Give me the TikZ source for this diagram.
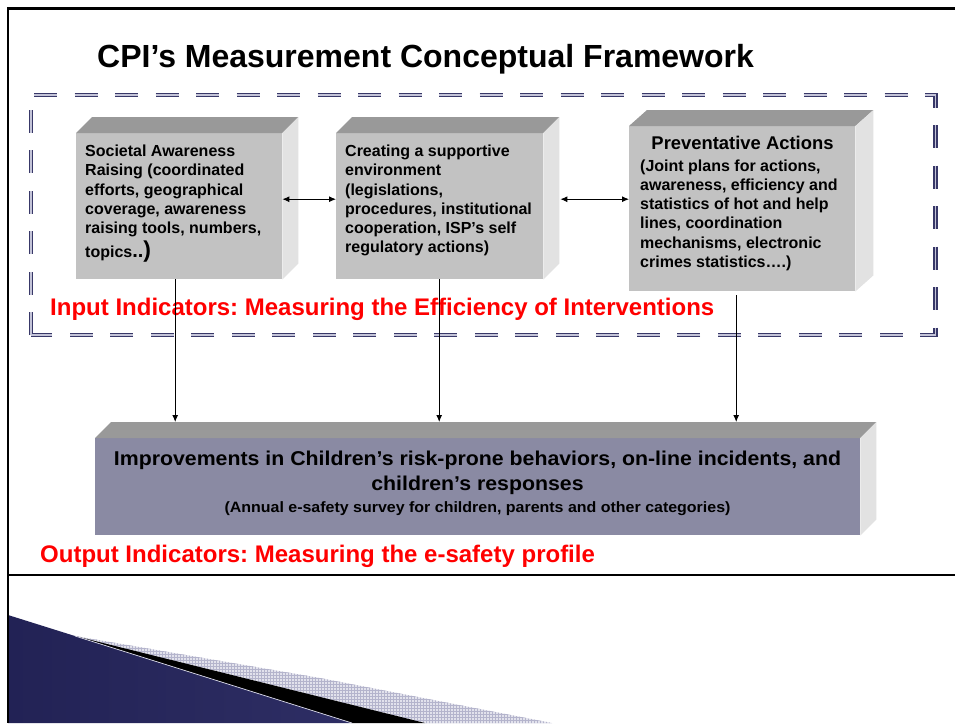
\documentclass[tikz,border=0pt]{standalone}
\usepackage{fontspec}
\setmainfont{Liberation Sans}
\newfontfamily\widefont[FakeStretch=1.065]{Liberation Sans}
\usetikzlibrary{arrows.meta,calc,patterns}
\frenchspacing
\definecolor{boxfront}{HTML}{C2C2C2}
\definecolor{boxtop}{HTML}{999999}
\definecolor{boxside}{HTML}{E2E2E2}
\definecolor{bigfront}{HTML}{8A8AA3}
\definecolor{dashnavy}{HTML}{383868}
\definecolor{dashmid}{HTML}{C4C4D8}
\definecolor{navyA}{HTML}{222255}
\definecolor{navyB}{HTML}{63639B}
\definecolor{navyC}{HTML}{2E2E64}
\definecolor{hatchbg}{HTML}{E2E2EC}
\definecolor{hatchln}{HTML}{B4B4CC}
\definecolor{redtxt}{HTML}{FF0000}
\tikzset{
  frontface/.style={fill=boxfront, inner sep=0pt, anchor=north west},
  topface/.style={fill=boxtop},
  sideface/.style={fill=boxside},
  boxtext/.style={font=\bfseries\fontsize{16}{19.2}\selectfont, align=left, inner sep=0pt, anchor=north west},
  redlabel/.style={font=\bfseries\fontsize{24}{28}\selectfont, text=redtxt, inner sep=0pt, anchor=base west},
  bigtext/.style={inner sep=0pt, anchor=base},
  dashframe/.style={draw=dashnavy, double=dashmid, line width=1.6pt, double distance=1.4pt,
     dash pattern=on 23pt off 17.5pt},
  flowarrow/.style={-{Latex[length=7pt,width=6pt]}, line width=0.9pt},
  botharrow/.style={{Latex[length=7pt,width=6pt]}-{Latex[length=7pt,width=6pt]}, line width=0.9pt},
}
\begin{document}
\begin{tikzpicture}[x=1pt,y=-1pt]
\useasboundingbox (0,0) rectangle (955,723);
\fill[white] (0,0) rectangle (955,723);

% bottom-left decoration
\fill[hatchbg] (75,636) -- (320,678) -- (552,723) -- (425,723) -- cycle;
\fill[pattern=grid, pattern color=hatchln] (75,636) -- (320,678) -- (552,723) -- (425,723) -- cycle;
\fill[black] (75,636) -- (425,723) -- (352,723) -- cycle;
\shade[left color=navyA, middle color=navyB, right color=navyC] (8,615) -- (352,723) -- (8,723) -- cycle;
\draw[white!75!navyB, line width=0.7pt] (75,636) -- (352,723);

% slide frame
\draw[line width=2.7pt] (7.3,8.5) -- (955,8.5);
\draw[line width=2pt] (8.3,7.2) -- (8.3,723);
\draw[line width=2pt] (8.3,575) -- (955,575);

% title
\node[font=\bfseries\fontsize{32}{36}\selectfont, inner sep=0pt, anchor=base west] (title) at (97,67)
  {CPI’s Measurement Conceptual Framework};

% dashed frame
\draw[dashframe] (31,335) -- (31,95) -- (935.5,95) -- (935.5,335) -- cycle;

% box 1
\node[frontface, minimum width=206pt, minimum height=146pt] (b1) at (76,133) {};
\fill[topface] (b1.north west) -- ++(16,-16) -- ($(b1.north east)+(16,-16)$) -- (b1.north east) -- cycle;
\fill[sideface] (b1.north east) -- ++(16,-16) -- ($(b1.south east)+(16,-16)$) -- (b1.south east) -- cycle;
\node[boxtext] (t1) at (85,145) {Societal Awareness\\Raising (coordinated\\efforts, geographical\\coverage, awareness\\raising tools, numbers,\\[3pt]topics{\fontsize{20}{20}\selectfont..}{\fontsize{23}{23}\selectfont)}};

% box 2
\node[frontface, minimum width=207pt, minimum height=146pt] (b2) at (336,133) {};
\fill[topface] (b2.north west) -- ++(16,-16) -- ($(b2.north east)+(16,-16)$) -- (b2.north east) -- cycle;
\fill[sideface] (b2.north east) -- ++(16,-16) -- ($(b2.south east)+(16,-16)$) -- (b2.south east) -- cycle;
\node[boxtext] (t2) at (345,145) {Creating a supportive\\environment\\(legislations,\\procedures, institutional\\cooperation, ISP’s self\\regulatory actions)};

% box 3
\node[frontface, minimum width=226pt, minimum height=165pt] (b3) at (629,126) {};
\fill[topface] (b3.north west) -- ++(18,-16) -- ($(b3.north east)+(18,-16)$) -- (b3.north east) -- cycle;
\fill[sideface] (b3.north east) -- ++(18,-16) -- ($(b3.south east)+(18,-16)$) -- (b3.south east) -- cycle;
\node[font=\bfseries\fontsize{18.4}{22}\selectfont, inner sep=0pt, anchor=base] (t3h) at (742.5,149.5) {Preventative Actions};
\node[boxtext] (t3) at (640,159.5) {(Joint plans for actions,\\awareness, efficiency and\\statistics of hot and help\\lines, coordination\\mechanisms, electronic\\crimes statistics….)};

% big box
\node[fill=bigfront, inner sep=0pt, anchor=north west, minimum width=765pt, minimum height=97pt] (big) at (95,438) {};
\fill[topface] (big.north west) -- ++(16,-16) -- ($(big.north east)+(16,-16)$) -- (big.north east) -- cycle;
\fill[sideface] (big.north east) -- ++(16,-16) -- ($(big.south east)+(16,-16)$) -- (big.south east) -- cycle;
\coordinate (bigtop) at ($(big.north west)+(16,-16)$);
\node[bigtext, font=\widefont\bfseries\fontsize{20}{24}\selectfont] (bt1) at (477.5,465) {Improvements in Children’s risk-prone behaviors, on-line incidents, and};
\node[bigtext, font=\widefont\bfseries\fontsize{20}{24}\selectfont] (bt2) at (477.5,490) {children’s responses};
\node[bigtext, font=\widefont\bfseries\fontsize{15}{18}\selectfont] (bt3) at (477.5,512) {(Annual e-safety survey for children, parents and other categories)};

% labels
\node[redlabel] (inlab) at (50,315.5) {Input Indicators: Measuring the Efficiency of Interventions};
\node[redlabel] (outlab) at (40,562) {Output Indicators: Measuring the e-safety profile};

% arrows
\draw[botharrow] ([yshift=7pt]b1.east) -- ([yshift=7pt]b2.west);
\draw[botharrow] ([xshift=17pt,yshift=7pt]b2.east) -- ([yshift=9.5pt]b3.west);
\coordinate (s1) at ([xshift=-4pt]b1.south);
\coordinate (s2) at ([xshift=-0.5pt]b2.south);
\coordinate (s3) at ([xshift=-6pt,yshift=-4pt]b3.south);
\draw[flowarrow] (s1) -- (s1 |- bigtop);
\draw[flowarrow] (s2) -- (s2 |- bigtop);
\draw[flowarrow] (s3) -- (s3 |- bigtop);
\end{tikzpicture}
\end{document}
